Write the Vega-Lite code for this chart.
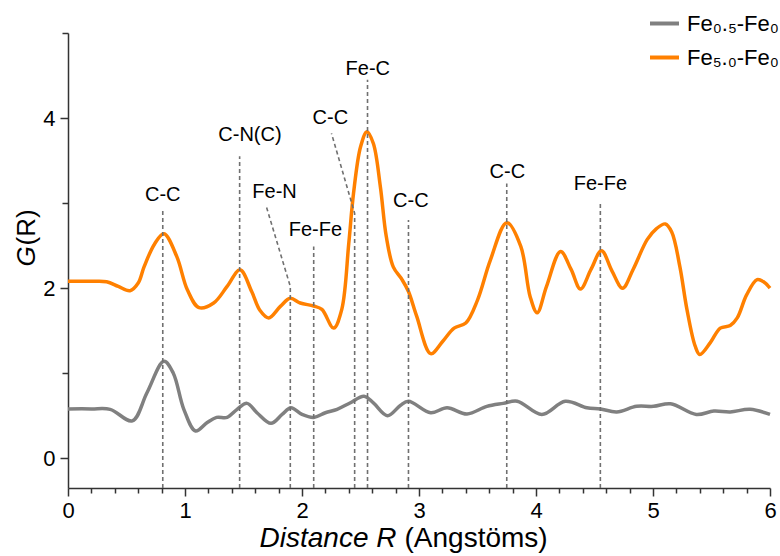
{
  "$schema": "https://vega.github.io/schema/vega-lite/v6.json",
  "width": 702,
  "height": 455,
  "autosize": "none",
  "padding": {"left": 68, "top": 33, "right": 10, "bottom": 68},
  "background": "white",
  "config": {
    "view": {"stroke": null},
    "font": "Liberation Sans",
    "axis": {
      "grid": false,
      "domainColor": "#333333",
      "domainWidth": 1.5,
      "tickColor": "#333333",
      "tickWidth": 1.5,
      "labelColor": "black",
      "titleColor": "black",
      "titleFontWeight": "normal",
      "labelFont": "Liberation Sans",
      "titleFont": "Liberation Sans"
    }
  },
  "datasets": {
    "curves": [
      {"series": "Fe₅.₀-Fe₀", "x": 0, "y": 2.08},
      {"series": "Fe₅.₀-Fe₀", "x": 0.2, "y": 2.08},
      {"series": "Fe₅.₀-Fe₀", "x": 0.33, "y": 2.075},
      {"series": "Fe₅.₀-Fe₀", "x": 0.43, "y": 2.02},
      {"series": "Fe₅.₀-Fe₀", "x": 0.53, "y": 1.97},
      {"series": "Fe₅.₀-Fe₀", "x": 0.6, "y": 2.06},
      {"series": "Fe₅.₀-Fe₀", "x": 0.65, "y": 2.25},
      {"series": "Fe₅.₀-Fe₀", "x": 0.74, "y": 2.52},
      {"series": "Fe₅.₀-Fe₀", "x": 0.82, "y": 2.64},
      {"series": "Fe₅.₀-Fe₀", "x": 0.93, "y": 2.37},
      {"series": "Fe₅.₀-Fe₀", "x": 1.02, "y": 1.98},
      {"series": "Fe₅.₀-Fe₀", "x": 1.12, "y": 1.77},
      {"series": "Fe₅.₀-Fe₀", "x": 1.245, "y": 1.825},
      {"series": "Fe₅.₀-Fe₀", "x": 1.36, "y": 2.02},
      {"series": "Fe₅.₀-Fe₀", "x": 1.47, "y": 2.215},
      {"series": "Fe₅.₀-Fe₀", "x": 1.57, "y": 1.96},
      {"series": "Fe₅.₀-Fe₀", "x": 1.64, "y": 1.74},
      {"series": "Fe₅.₀-Fe₀", "x": 1.715, "y": 1.65},
      {"series": "Fe₅.₀-Fe₀", "x": 1.815, "y": 1.785},
      {"series": "Fe₅.₀-Fe₀", "x": 1.9, "y": 1.88},
      {"series": "Fe₅.₀-Fe₀", "x": 1.985, "y": 1.825},
      {"series": "Fe₅.₀-Fe₀", "x": 2.1, "y": 1.79},
      {"series": "Fe₅.₀-Fe₀", "x": 2.17, "y": 1.75},
      {"series": "Fe₅.₀-Fe₀", "x": 2.27, "y": 1.53},
      {"series": "Fe₅.₀-Fe₀", "x": 2.34, "y": 1.75},
      {"series": "Fe₅.₀-Fe₀", "x": 2.4, "y": 2.53},
      {"series": "Fe₅.₀-Fe₀", "x": 2.44, "y": 3.11},
      {"series": "Fe₅.₀-Fe₀", "x": 2.5, "y": 3.66},
      {"series": "Fe₅.₀-Fe₀", "x": 2.555, "y": 3.84},
      {"series": "Fe₅.₀-Fe₀", "x": 2.61, "y": 3.7},
      {"series": "Fe₅.₀-Fe₀", "x": 2.67, "y": 3.19},
      {"series": "Fe₅.₀-Fe₀", "x": 2.72, "y": 2.61},
      {"series": "Fe₅.₀-Fe₀", "x": 2.78, "y": 2.25},
      {"series": "Fe₅.₀-Fe₀", "x": 2.855, "y": 2.1},
      {"series": "Fe₅.₀-Fe₀", "x": 2.91, "y": 1.96},
      {"series": "Fe₅.₀-Fe₀", "x": 2.98, "y": 1.67},
      {"series": "Fe₅.₀-Fe₀", "x": 3.1, "y": 1.23},
      {"series": "Fe₅.₀-Fe₀", "x": 3.2, "y": 1.37},
      {"series": "Fe₅.₀-Fe₀", "x": 3.3, "y": 1.53},
      {"series": "Fe₅.₀-Fe₀", "x": 3.4, "y": 1.59},
      {"series": "Fe₅.₀-Fe₀", "x": 3.5, "y": 1.86},
      {"series": "Fe₅.₀-Fe₀", "x": 3.61, "y": 2.33},
      {"series": "Fe₅.₀-Fe₀", "x": 3.75, "y": 2.77},
      {"series": "Fe₅.₀-Fe₀", "x": 3.87, "y": 2.49},
      {"series": "Fe₅.₀-Fe₀", "x": 3.95, "y": 1.9},
      {"series": "Fe₅.₀-Fe₀", "x": 4.01, "y": 1.71},
      {"series": "Fe₅.₀-Fe₀", "x": 4.09, "y": 2.02},
      {"series": "Fe₅.₀-Fe₀", "x": 4.21, "y": 2.43},
      {"series": "Fe₅.₀-Fe₀", "x": 4.3, "y": 2.22},
      {"series": "Fe₅.₀-Fe₀", "x": 4.38, "y": 1.99},
      {"series": "Fe₅.₀-Fe₀", "x": 4.47, "y": 2.22},
      {"series": "Fe₅.₀-Fe₀", "x": 4.56, "y": 2.44},
      {"series": "Fe₅.₀-Fe₀", "x": 4.65, "y": 2.2},
      {"series": "Fe₅.₀-Fe₀", "x": 4.74, "y": 2.0},
      {"series": "Fe₅.₀-Fe₀", "x": 4.83, "y": 2.22},
      {"series": "Fe₅.₀-Fe₀", "x": 4.95, "y": 2.57},
      {"series": "Fe₅.₀-Fe₀", "x": 5.03, "y": 2.7},
      {"series": "Fe₅.₀-Fe₀", "x": 5.105, "y": 2.755},
      {"series": "Fe₅.₀-Fe₀", "x": 5.16, "y": 2.66},
      {"series": "Fe₅.₀-Fe₀", "x": 5.23, "y": 2.25},
      {"series": "Fe₅.₀-Fe₀", "x": 5.29, "y": 1.75},
      {"series": "Fe₅.₀-Fe₀", "x": 5.36, "y": 1.32},
      {"series": "Fe₅.₀-Fe₀", "x": 5.4, "y": 1.22},
      {"series": "Fe₅.₀-Fe₀", "x": 5.49, "y": 1.36},
      {"series": "Fe₅.₀-Fe₀", "x": 5.575, "y": 1.53},
      {"series": "Fe₅.₀-Fe₀", "x": 5.66, "y": 1.56},
      {"series": "Fe₅.₀-Fe₀", "x": 5.72, "y": 1.65},
      {"series": "Fe₅.₀-Fe₀", "x": 5.8, "y": 1.92},
      {"series": "Fe₅.₀-Fe₀", "x": 5.89, "y": 2.1},
      {"series": "Fe₅.₀-Fe₀", "x": 5.95, "y": 2.07},
      {"series": "Fe₅.₀-Fe₀", "x": 6.0, "y": 2.0},
      {"series": "Fe₀.₅-Fe₀", "x": 0, "y": 0.58},
      {"series": "Fe₀.₅-Fe₀", "x": 0.2, "y": 0.58},
      {"series": "Fe₀.₅-Fe₀", "x": 0.36, "y": 0.575},
      {"series": "Fe₀.₅-Fe₀", "x": 0.55, "y": 0.44},
      {"series": "Fe₀.₅-Fe₀", "x": 0.675, "y": 0.77},
      {"series": "Fe₀.₅-Fe₀", "x": 0.82, "y": 1.14},
      {"series": "Fe₀.₅-Fe₀", "x": 0.9, "y": 1.0},
      {"series": "Fe₀.₅-Fe₀", "x": 0.99, "y": 0.575},
      {"series": "Fe₀.₅-Fe₀", "x": 1.09, "y": 0.32},
      {"series": "Fe₀.₅-Fe₀", "x": 1.19, "y": 0.42},
      {"series": "Fe₀.₅-Fe₀", "x": 1.27, "y": 0.48},
      {"series": "Fe₀.₅-Fe₀", "x": 1.36, "y": 0.48},
      {"series": "Fe₀.₅-Fe₀", "x": 1.445, "y": 0.575},
      {"series": "Fe₀.₅-Fe₀", "x": 1.53, "y": 0.645},
      {"series": "Fe₀.₅-Fe₀", "x": 1.615, "y": 0.535},
      {"series": "Fe₀.₅-Fe₀", "x": 1.735, "y": 0.41},
      {"series": "Fe₀.₅-Fe₀", "x": 1.83, "y": 0.515},
      {"series": "Fe₀.₅-Fe₀", "x": 1.905, "y": 0.594},
      {"series": "Fe₀.₅-Fe₀", "x": 2.0, "y": 0.515},
      {"series": "Fe₀.₅-Fe₀", "x": 2.1, "y": 0.48},
      {"series": "Fe₀.₅-Fe₀", "x": 2.2, "y": 0.535},
      {"series": "Fe₀.₅-Fe₀", "x": 2.3, "y": 0.575},
      {"series": "Fe₀.₅-Fe₀", "x": 2.41, "y": 0.65},
      {"series": "Fe₀.₅-Fe₀", "x": 2.53, "y": 0.73},
      {"series": "Fe₀.₅-Fe₀", "x": 2.61, "y": 0.65},
      {"series": "Fe₀.₅-Fe₀", "x": 2.73, "y": 0.5},
      {"series": "Fe₀.₅-Fe₀", "x": 2.84, "y": 0.62},
      {"series": "Fe₀.₅-Fe₀", "x": 2.91, "y": 0.67},
      {"series": "Fe₀.₅-Fe₀", "x": 3.1, "y": 0.535},
      {"series": "Fe₀.₅-Fe₀", "x": 3.24, "y": 0.594},
      {"series": "Fe₀.₅-Fe₀", "x": 3.41, "y": 0.52},
      {"series": "Fe₀.₅-Fe₀", "x": 3.58, "y": 0.61},
      {"series": "Fe₀.₅-Fe₀", "x": 3.72, "y": 0.645},
      {"series": "Fe₀.₅-Fe₀", "x": 3.84, "y": 0.67},
      {"series": "Fe₀.₅-Fe₀", "x": 4.05, "y": 0.515},
      {"series": "Fe₀.₅-Fe₀", "x": 4.25, "y": 0.67},
      {"series": "Fe₀.₅-Fe₀", "x": 4.435, "y": 0.594},
      {"series": "Fe₀.₅-Fe₀", "x": 4.55, "y": 0.58},
      {"series": "Fe₀.₅-Fe₀", "x": 4.69, "y": 0.545},
      {"series": "Fe₀.₅-Fe₀", "x": 4.86, "y": 0.61},
      {"series": "Fe₀.₅-Fe₀", "x": 5.005, "y": 0.61},
      {"series": "Fe₀.₅-Fe₀", "x": 5.15, "y": 0.64},
      {"series": "Fe₀.₅-Fe₀", "x": 5.37, "y": 0.515},
      {"series": "Fe₀.₅-Fe₀", "x": 5.52, "y": 0.555},
      {"series": "Fe₀.₅-Fe₀", "x": 5.66, "y": 0.545},
      {"series": "Fe₀.₅-Fe₀", "x": 5.83, "y": 0.575},
      {"series": "Fe₀.₅-Fe₀", "x": 6.0, "y": 0.515}
    ],
    "guides": [
      {"id": 1, "ord": 1, "x": 0.81, "y": -0.35},
      {"id": 1, "ord": 2, "x": 0.81, "y": 2.93},
      {"id": 2, "ord": 1, "x": 1.467, "y": -0.35},
      {"id": 2, "ord": 2, "x": 1.467, "y": 3.55},
      {"id": 3, "ord": 1, "x": 1.9, "y": -0.35},
      {"id": 3, "ord": 2, "x": 1.9, "y": 2.02},
      {"id": 3, "ord": 3, "x": 1.695, "y": 2.96},
      {"id": 4, "ord": 1, "x": 2.1, "y": -0.35},
      {"id": 4, "ord": 2, "x": 2.1, "y": 2.49},
      {"id": 5, "ord": 1, "x": 2.45, "y": -0.35},
      {"id": 5, "ord": 2, "x": 2.45, "y": 2.88},
      {"id": 5, "ord": 3, "x": 2.252, "y": 3.82},
      {"id": 6, "ord": 1, "x": 2.56, "y": -0.35},
      {"id": 6, "ord": 2, "x": 2.56, "y": 4.45},
      {"id": 7, "ord": 1, "x": 2.91, "y": -0.35},
      {"id": 7, "ord": 2, "x": 2.91, "y": 2.8},
      {"id": 8, "ord": 1, "x": 3.75, "y": -0.35},
      {"id": 8, "ord": 2, "x": 3.75, "y": 3.23},
      {"id": 9, "ord": 1, "x": 4.55, "y": -0.35},
      {"id": 9, "ord": 2, "x": 4.55, "y": 3.0}
    ],
    "labels": [
      {"label": "C-C", "x": 0.81, "y": 3.09},
      {"label": "C-N(C)", "x": 1.555, "y": 3.8},
      {"label": "Fe-N", "x": 1.765, "y": 3.13},
      {"label": "Fe-Fe", "x": 2.115, "y": 2.685},
      {"label": "C-C", "x": 2.242, "y": 3.995},
      {"label": "Fe-C", "x": 2.562, "y": 4.58},
      {"label": "C-C", "x": 2.93, "y": 3.02},
      {"label": "C-C", "x": 3.755, "y": 3.37},
      {"label": "Fe-Fe", "x": 4.55, "y": 3.23}
    ]
  },
  "layer": [
    {
      "data": {"name": "curves"},
      "mark": {"type": "line", "interpolate": "catmull-rom", "strokeWidth": 3.5},
      "encoding": {
        "x": {
          "field": "x", "type": "quantitative",
          "scale": {"domain": [0, 6], "nice": false, "zero": false},
          "axis": {
            "orient": "bottom", "values": [0, 1, 2, 3, 4, 5, 6], "tickSize": 8,
            "labelFontSize": 22, "labelPadding": 4, "labelFlush": false,
            "title": "Distance R", "titleFontStyle": "italic", "titleFontSize": 28,
            "titleAlign": "right", "titleBaseline": "alphabetic", "titleX": 328, "titleY": 58
          }
        },
        "y": {
          "field": "y", "type": "quantitative",
          "scale": {"domain": [-0.35, 5], "nice": false, "zero": false},
          "axis": {
            "orient": "left", "values": [0, 2, 4], "tickSize": 8,
            "labelFontSize": 22, "labelPadding": 5, "labelFlush": false,
            "title": "G", "titleFontStyle": "italic", "titleFontSize": 26, "titleAngle": -90,
            "titleAlign": "left", "titleBaseline": "alphabetic", "titleX": -34, "titleY": 233
          }
        },
        "color": {
          "field": "series", "type": "nominal",
          "scale": {"domain": ["Fe₀.₅-Fe₀", "Fe₅.₀-Fe₀"], "range": ["#808080", "#ff8000"]},
          "legend": {
            "orient": "none", "legendX": 580, "legendY": -26, "title": null,
            "symbolType": "stroke", "symbolStrokeWidth": 4, "symbolSize": 841,
            "labelFontSize": 22, "labelOffset": 6, "rowPadding": 6, "labelLimit": 300,
            "labelColor": "black"
          }
        }
      }
    },
    {
      "data": {"name": "guides"},
      "mark": {"type": "line", "strokeDash": [4, 3], "strokeWidth": 1.6, "color": "#707070"},
      "encoding": {
        "x": {
          "field": "x", "type": "quantitative",
          "axis": {
            "orient": "bottom",
            "values": [0.2, 0.4, 0.6, 0.8, 1.2, 1.4, 1.6, 1.8, 2.2, 2.4, 2.6, 2.8, 3.2, 3.4, 3.6, 3.8, 4.2, 4.4, 4.6, 4.8, 5.2, 5.4, 5.6, 5.8],
            "tickSize": 5, "labels": false, "domain": false,
            "title": "(Angstöms)", "titleFontStyle": "normal", "titleFontSize": 28,
            "titleAlign": "left", "titleBaseline": "alphabetic", "titleX": 336, "titleY": 58
          }
        },
        "y": {
          "field": "y", "type": "quantitative",
          "axis": {
            "orient": "left", "values": [1, 3, 5], "tickSize": 6, "labels": false, "domain": false,
            "title": "(R)", "titleFontStyle": "normal", "titleFontSize": 26, "titleAngle": -90,
            "titleAlign": "left", "titleBaseline": "alphabetic", "titleX": -34, "titleY": 212
          }
        },
        "detail": {"field": "id", "type": "nominal"},
        "order": {"field": "ord", "type": "quantitative"}
      }
    },
    {
      "data": {"name": "labels"},
      "mark": {"type": "text", "fontSize": 20, "color": "black", "align": "center", "baseline": "middle", "font": "Liberation Sans"},
      "encoding": {
        "x": {"field": "x", "type": "quantitative", "axis": null},
        "y": {"field": "y", "type": "quantitative", "axis": null},
        "text": {"field": "label", "type": "nominal"}
      }
    }
  ],
  "resolve": {"axis": {"x": "independent", "y": "independent"}}
}
